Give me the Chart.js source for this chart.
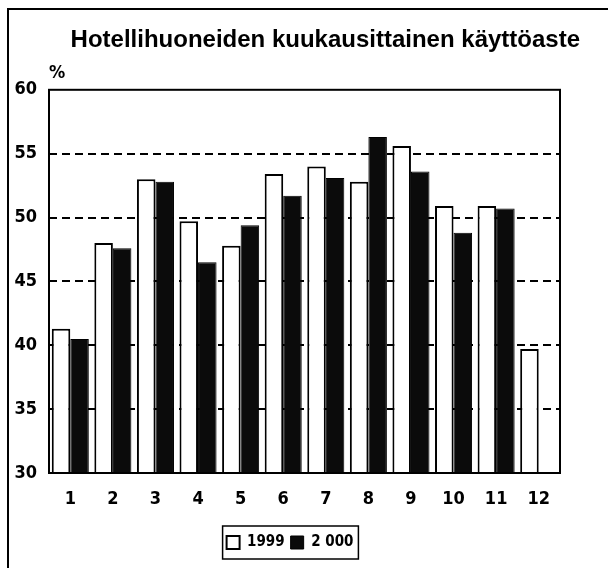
<!DOCTYPE html>
<html>
<head>
<meta charset="utf-8">
<script src="https://cdn.jsdelivr.net/npm/chart.js@4"></script>
<style>
  html, body { margin: 0; padding: 0; background: #fff; overflow: hidden; }
  canvas { display: block; }
</style>
</head>
<body>
<canvas id="kaytto" width="608" height="568"></canvas>
<script>
// Kuukaudet ja käyttöasteet (%)
const kuukaudet = ['1', '2', '3', '4', '5', '6', '7', '8', '9', '10', '11', '12'];
const arvot1999 = [41.3, 48.0, 53.0, 49.7, 47.8, 53.4, 54.0, 52.8, 55.6, 50.9, 50.9, 39.7];
const arvot2000 = [40.5, 47.6, 52.8, 46.5, 49.4, 51.7, 53.1, 56.3, 53.6, 48.8, 50.7, null];
const yTicks = [30, 35, 40, 45, 50, 55, 60];

const fontti = "'DejaVu Sans Condensed', 'Liberation Sans', Arial, sans-serif";

// kehys, prosenttimerkki ja kuvaajan reunat
const kehys = {
    id: 'kehys',
    beforeDraw(chart) {
        const ctx = chart.ctx;
        ctx.save();
        ctx.fillStyle = '#fff';
        ctx.fillRect(0, 0, chart.width, chart.height);
        ctx.strokeStyle = '#000';
        ctx.lineWidth = 2;
        ctx.strokeRect(8, 9, 700, 700);
        ctx.restore();
    },
    afterDatasetsDraw(chart) {
        const a = chart.chartArea;
        const ctx = chart.ctx;
        ctx.save();
        ctx.strokeStyle = '#000';
        ctx.lineWidth = 2;
        ctx.strokeRect(a.left, a.top, a.right - a.left, a.bottom - a.top);
        ctx.font = "bold 18px " + fontti;
        ctx.fillStyle = '#000';
        ctx.textAlign = 'left';
        ctx.textBaseline = 'middle';
        ctx.fillText('%', a.left, a.top - 16);
        ctx.restore();
    },
    afterDraw(chart) {
        const boxes = chart.legend.legendHitBoxes;
        if (!boxes || !boxes.length) return;
        const vasen = Math.min(...boxes.map(b => b.left));
        const oikea = Math.max(...boxes.map(b => b.left + b.width));
        const yla = boxes[0].top;
        const ala = boxes[0].top + boxes[0].height;
        const ctx = chart.ctx;
        ctx.save();
        ctx.strokeStyle = '#000';
        ctx.lineWidth = 1.5;
        ctx.strokeRect(vasen - 4, yla - 9, oikea - vasen + 9, ala - yla + 18);
        ctx.restore();
    }
};

new Chart(document.getElementById('kaytto'), {
    type: 'bar',
    data: {
        labels: kuukaudet,
        datasets: [{
            label: '1999',
            data: arvot1999,
            backgroundColor: '#fff',
            borderColor: '#000',
            borderWidth: 2,
            borderSkipped: false
        }, {
            label: '2 000',
            data: arvot2000,
            backgroundColor: '#0b0b0b',
            borderColor: '#000',
            borderWidth: 1,
            borderSkipped: false
        }]
    },
    options: {
        responsive: false,
        animation: false,
        devicePixelRatio: 1,
        categoryPercentage: 0.87,
        barPercentage: 1.0,
        layout: { padding: { left: 0, right: 28, top: 0, bottom: 8 } },
        plugins: {
            title: {
                display: true,
                text: 'Hotellihuoneiden kuukausittainen käyttöaste',
                align: 'end',
                color: '#000',
                font: { family: "'Liberation Sans', Arial, sans-serif", size: 24, weight: 'bold' },
                padding: { top: 26, bottom: 35 }
            },
            legend: {
                position: 'bottom',
                labels: {
                    color: '#000',
                    font: { family: fontti, size: 15, weight: 'bold' },
                    boxWidth: 13,
                    boxHeight: 13,
                    padding: 6
                }
            },
            tooltip: { enabled: false }
        },
        scales: {
            x: {
                grid: { display: false },
                border: { display: false },
                ticks: {
                    color: '#000',
                    font: { family: fontti, size: 18, weight: 'bold' },
                    padding: 8,
                    maxRotation: 0
                },
                afterFit(s) { s.height = 56; }
            },
            y: {
                min: 30,
                max: 60,
                border: { display: false, dash: [8, 5] },
                grid: {
                    drawTicks: false,
                    color: ctx => (ctx.tick.value > 30 && ctx.tick.value < 60) ? '#000' : 'rgba(0,0,0,0)',
                    lineWidth: 2
                },
                ticks: {
                    stepSize: 5,
                    color: '#000',
                    padding: 12,
                    font: { family: fontti, size: 18, weight: 'bold' }
                },
                afterBuildTicks(s) { s.ticks = yTicks.map(v => ({ value: v })); },
                afterFit(s) { s.width = 49; }
            },
            oikea: {
                position: 'right',
                display: true,
                grid: { display: false },
                border: { display: false },
                ticks: { display: false },
                afterFit(s) { s.width = 20; }
            }
        }
    },
    plugins: [kehys]
});
</script>
</body>
</html>
